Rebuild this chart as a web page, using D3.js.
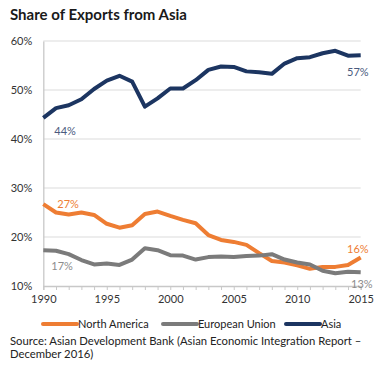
<!DOCTYPE html>
<html>
<head>
<meta charset="utf-8">
<script src="https://cdn.jsdelivr.net/npm/d3@7"></script>
<style>
  body { margin: 0; background: #fff; }
  svg text { font-family: Lato, "Open Sans", sans-serif; }
</style>
</head>
<body>
<div id="chart"></div>
<script>
const years = d3.range(1990, 2016);
const northAmerica = [26.7, 25.0, 24.6, 25.0, 24.5, 22.7, 21.9, 22.4, 24.7, 25.2, 24.3, 23.5, 22.8,
  20.4, 19.4, 19.0, 18.4, 16.7, 15.1, 14.8, 14.2, 13.5, 13.9, 13.9, 14.3, 15.8];
const europeanUnion = [17.3, 17.2, 16.5, 15.3, 14.4, 14.6, 14.3, 15.4, 17.7, 17.3, 16.3, 16.2, 15.4,
  15.9, 16.0, 15.9, 16.1, 16.2, 16.5, 15.4, 14.8, 14.4, 13.1, 12.6, 12.9, 12.8];
const asia = [44.3, 46.3, 46.9, 48.1, 50.2, 51.9, 52.9, 51.7, 46.6, 48.3, 50.3, 50.3, 52.0,
  54.1, 54.8, 54.7, 53.8, 53.6, 53.3, 55.4, 56.5, 56.7, 57.5, 58.0, 57.0, 57.1];
const yTicks = [10, 20, 30, 40, 50, 60];
const xTicks = [1990, 1995, 2000, 2005, 2010, 2015];

const series = [
  { name: "North America", values: northAmerica, color: "#ee7d33" },
  { name: "European Union", values: europeanUnion, color: "#7b7b7b" },
  { name: "Asia", values: asia, color: "#1c3561" }
];

const w = 380, h = 374;
const svg = d3.select("#chart").append("svg").attr("width", w).attr("height", h);

const x = d3.scaleLinear().domain([1990, 2015]).range([43.3, 360.7]);
const y = d3.scaleLinear().domain([10, 60]).range([286, 41]);

// title
svg.append("text").text("Share of Exports from Asia")
  .attr("x", 10).attr("y", 20)
  .style("font-size", "15px").style("font-weight", "bold").attr("fill", "#1a1a1a");

// gridlines
svg.append("g").selectAll("line").data(yTicks.slice(1)).join("line")
  .attr("x1", x(1990)).attr("x2", x(2015))
  .attr("y1", d => y(d)).attr("y2", d => y(d))
  .attr("stroke", "#dcdcdc").attr("stroke-width", 1.2);

// y axis
const yAxis = d3.axisLeft(y).tickValues(yTicks).tickFormat(d => d + "%").tickSize(0).tickPadding(11);
const gy = svg.append("g").attr("transform", `translate(${x(1990)},0)`).call(yAxis);
gy.select(".domain").attr("stroke", "#c8c8c8").attr("stroke-width", 1.3);
gy.selectAll("text").style("font-size", "11px").attr("fill", "#333");

// x axis
const xAxis = d3.axisBottom(x).tickValues(years).tickSize(4).tickFormat(d => xTicks.includes(d) ? d : "");
const gx = svg.append("g").attr("transform", `translate(0,${y(10)})`).call(xAxis);
gx.select(".domain").attr("stroke", "#c8c8c8").attr("stroke-width", 1.3);
gx.selectAll(".tick line").attr("stroke", "#c8c8c8");
gx.selectAll("text").style("font-size", "11px").attr("fill", "#333").attr("dy", "0.9em");

// lines
const line = d3.line().x((d, i) => x(years[i])).y(d => y(d));
svg.append("g").selectAll("path").data(series).join("path")
  .attr("d", d => line(d.values))
  .attr("fill", "none").attr("stroke", d => d.color)
  .attr("stroke-width", 4).attr("stroke-linejoin", "round");

// value labels
const labels = [
  { text: "44%", year: 1990, v: asia[0], dx: 11, dy: 13, color: "#4a5a7e", anchor: "start" },
  { text: "57%", year: 2015, v: asia[25], dx: 8, dy: 17, color: "#4a5a7e", anchor: "end" },
  { text: "27%", year: 1990, v: northAmerica[0], dx: 14, dy: 0, color: "#ee7d33", anchor: "start" },
  { text: "17%", year: 1990, v: europeanUnion[0], dx: 8, dy: 16, color: "#8c8c8c", anchor: "start" },
  { text: "16%", year: 2015, v: northAmerica[25], dx: 8, dy: -8, color: "#ee7d33", anchor: "end" },
  { text: "13%", year: 2015, v: europeanUnion[25], dx: 12, dy: 12, color: "#8c8c8c", anchor: "end" }
];
svg.append("g").selectAll("text").data(labels).join("text")
  .text(d => d.text)
  .attr("x", d => x(d.year) + d.dx).attr("y", d => y(d.v) + d.dy)
  .attr("dy", "0.35em").attr("text-anchor", d => d.anchor)
  .attr("fill", d => d.color).style("font-size", "11px");

// legend
const legendX = [43, 163, 286];
const lg = svg.append("g").selectAll("g").data(series).join("g")
  .attr("transform", (d, i) => `translate(${legendX[i]},324)`);
lg.append("line").attr("x1", 0).attr("x2", 34)
  .attr("stroke", d => d.color).attr("stroke-width", 4).attr("stroke-linecap", "round");
lg.append("text").text(d => d.name).attr("x", 35).attr("dy", "0.35em")
  .style("font-size", "11px").attr("fill", "#222");

// source
const src = svg.append("text").attr("x", 10).attr("y", 345)
  .style("font-size", "11.3px").attr("fill", "#222");
src.append("tspan").attr("x", 10).text("Source: Asian Development Bank (Asian Economic Integration Report –");
src.append("tspan").attr("x", 10).attr("dy", 13).text("December 2016)");
</script>
</body>
</html>
